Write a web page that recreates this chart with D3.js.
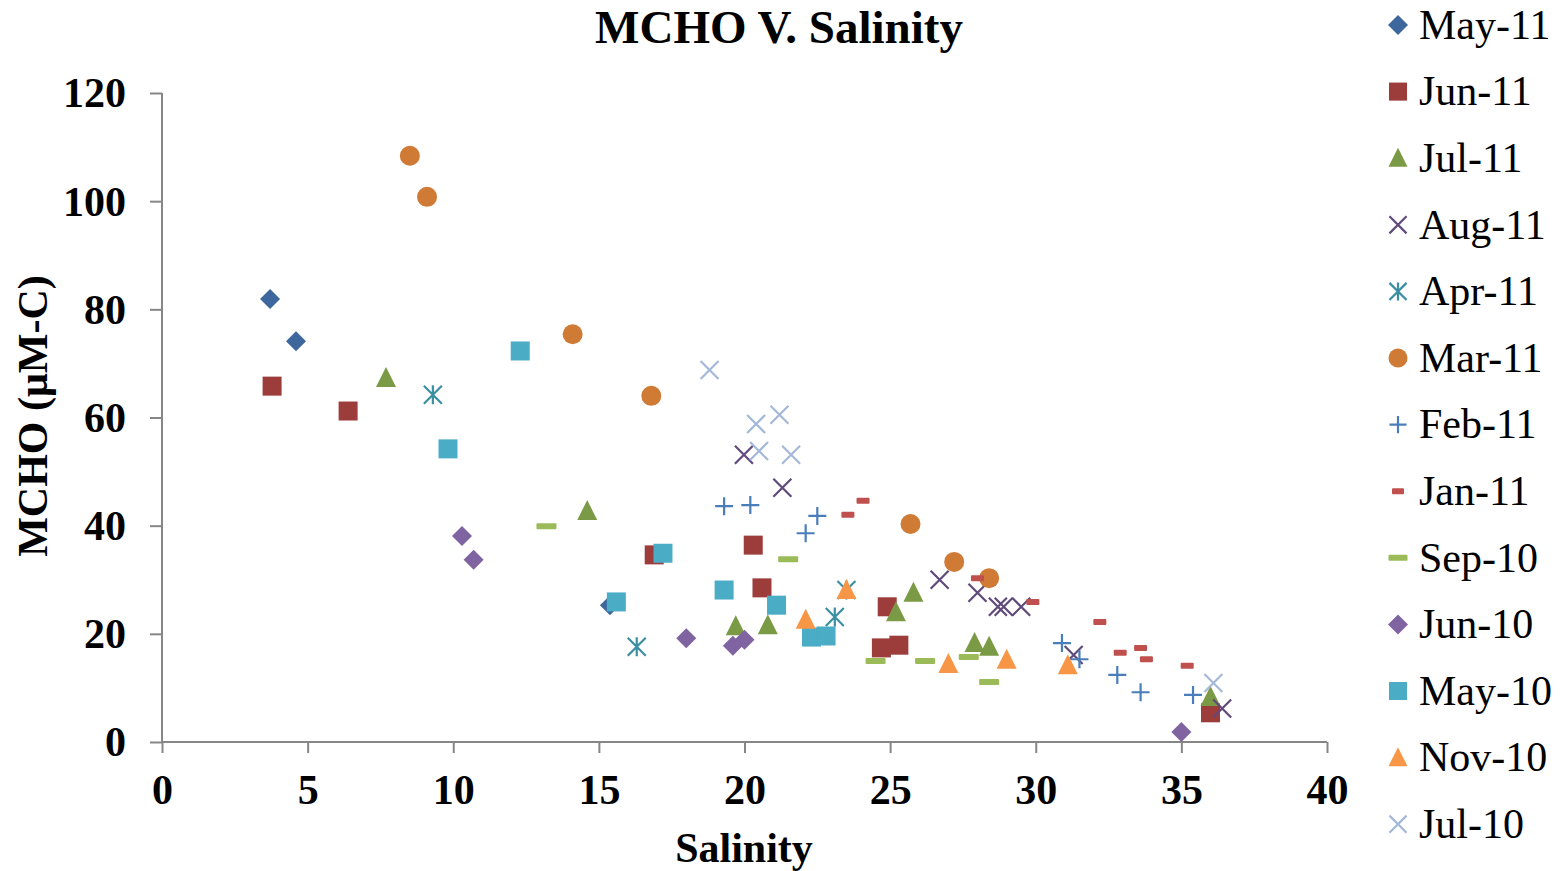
<!DOCTYPE html>
<html><head><meta charset="utf-8">
<script src="https://cdn.jsdelivr.net/npm/d3@7"></script>
<style>body{margin:0;background:#fff}</style></head>
<body><svg id="c" width="1568" height="871"></svg>
<script>
const seriesNames = ["May-11","Jun-11","Jul-11","Aug-11","Apr-11","Mar-11","Feb-11","Jan-11","Sep-10","Jun-10","May-10","Nov-10","Jul-10"];
const seriesColors = ["#3E689D","#9C3D3B","#7A9A45","#604A7B","#3A8FA3","#CF7A35","#4A7EBB","#C0504D","#9BBB59","#8064A2","#4BACC6","#F79646","#A5B8D8"];
const seriesShapes = ["diamond","square","triangle","x","star","circle","plus","dash","dash","diamond","square","triangle","x"];
const may11 = [[3.71,81.9],[4.60,74.1],[15.38,25.3]];
const jun11 = [[3.78,65.8],[6.39,61.2],[16.9,34.6],[20.3,36.4],[20.6,28.5],[24.9,25.0],[24.7,17.4],[25.3,17.9],[36.0,5.4]];
const jul11 = [[7.69,67.3],[14.6,42.7],[19.7,21.4],[20.8,21.6],[25.2,24.0],[25.8,27.6],[27.9,18.3],[28.4,17.6],[36.0,8.3]];
const aug11 = [[19.98,53.1],[21.3,47.0],[26.7,30.0],[28.0,27.6],[28.7,25.0],[28.9,25.0],[29.5,25.0],[31.3,16.1],[36.4,6.2]];
const apr11 = [[9.30,64.2],[16.3,17.6],[23.1,23.1],[23.5,28.1]];
const mar11 = [[8.51,108.4],[9.10,100.8],[14.1,75.4],[16.8,64.0],[25.7,40.3],[27.2,33.3],[28.4,30.3]];
const feb11 = [[19.3,43.6],[20.2,43.8],[22.1,38.6],[22.5,41.8],[30.9,18.3],[31.5,15.3],[32.8,12.4],[33.6,9.2],[35.4,8.7]];
const jan11 = [[23.55,42.0],[24.07,44.6],[28.0,30.3],[29.9,25.9],[32.2,22.2],[32.9,16.5],[33.6,17.4],[33.8,15.3],[35.2,14.1]];
const sep10 = [[13.2,39.9],[21.5,33.8],[24.5,15.0],[26.2,15.0],[27.7,15.7],[28.4,11.1]];
const jun10 = [[10.3,38.1],[10.7,33.7],[18.0,19.2],[19.6,17.8],[20.0,18.9],[35.0,1.85]];
const may10 = [[12.3,72.3],[9.82,54.2],[17.2,34.9],[15.6,25.9],[19.3,28.1],[21.1,25.3],[22.3,19.4],[22.8,19.6]];
const nov10 = [[22.1,22.6],[23.5,28.1],[27.0,14.4],[29.0,15.2],[31.1,14.2]];
const jul10 = [[18.8,68.8],[20.4,58.8],[21.2,60.5],[20.5,53.8],[21.6,53.1],[36.1,10.9]];
const seriesData = [may11,jun11,jul11,aug11,apr11,mar11,feb11,jan11,sep10,jun10,may10,nov10,jul10];
const xTicks = [0,5,10,15,20,25,30,35,40];
const yTicks = [0,20,40,60,80,100,120];

const svg = d3.select("#c");
const font = "'Liberation Serif','Times New Roman',serif";
const x = d3.scaleLinear().domain([0,40]).range([162,1327]);
const y = d3.scaleLinear().domain([0,120]).range([742,93]);

// axes
const xa = svg.append("g").attr("transform","translate(0,742)").call(d3.axisBottom(x).tickValues(xTicks).tickSize(11));
const ya = svg.append("g").attr("transform","translate(162,0)").call(d3.axisLeft(y).tickValues(yTicks).tickSize(12));
[xa,ya].forEach(a=>{
  a.selectAll("path,line").attr("stroke","#868686").attr("stroke-width",2);
  a.selectAll("text").attr("font-family",font).attr("font-weight","bold").attr("font-size",42).attr("fill","#000");
});
xa.select(".domain").attr("d","M162,0H1327");
ya.select(".domain").attr("d","M0,742V93");
xa.selectAll("text").attr("y",48).attr("dy","0.33em");
ya.selectAll("text").attr("x",-36).attr("dy","0.33em");

function drawMarker(g, shape, color, cx, cy, s){
  const h = s/2;
  if(shape==="diamond") g.append("path").attr("d",`M${cx},${cy-h}L${cx+h},${cy}L${cx},${cy+h}L${cx-h},${cy}Z`).attr("fill",color);
  else if(shape==="square") g.append("rect").attr("x",cx-h*0.95).attr("y",cy-h*0.95).attr("width",s*0.95).attr("height",s*0.95).attr("fill",color);
  else if(shape==="triangle") g.append("path").attr("d",`M${cx},${cy-h*1.1}L${cx+h},${cy+h*0.9}L${cx-h},${cy+h*0.9}Z`).attr("fill",color);
  else if(shape==="circle") g.append("circle").attr("cx",cx).attr("cy",cy).attr("r",h).attr("fill",color);
  else if(shape==="x") g.append("path").attr("d",`M${cx-h*0.9},${cy-h*0.9}L${cx+h*0.9},${cy+h*0.9}M${cx-h*0.9},${cy+h*0.9}L${cx+h*0.9},${cy-h*0.9}`).attr("stroke",color).attr("stroke-width",2.2).attr("fill","none");
  else if(shape==="plus") g.append("path").attr("d",`M${cx-h*0.9},${cy}L${cx+h*0.9},${cy}M${cx},${cy-h*0.9}L${cx},${cy+h*0.9}`).attr("stroke",color).attr("stroke-width",2.2).attr("fill","none");
  else if(shape==="star") g.append("path").attr("d",`M${cx-h*0.9},${cy-h*0.9}L${cx+h*0.9},${cy+h*0.9}M${cx-h*0.9},${cy+h*0.9}L${cx+h*0.9},${cy-h*0.9}M${cx},${cy-h*0.95}L${cx},${cy+h*0.95}`).attr("stroke",color).attr("stroke-width",2.2).attr("fill","none");
  else if(shape==="dash") g.append("rect").attr("x",cx-h).attr("y",cy-3).attr("width",s).attr("height",6).attr("rx",1).attr("fill",color);
}

const plot = svg.append("g");
seriesData.forEach((arr,i)=>{
  const g = plot.append("g");
  arr.forEach(d=>{
    const sz = (seriesNames[i]==="Jan-11") ? 13 : 20;
    drawMarker(g, seriesShapes[i], seriesColors[i], x(d[0]), y(d[1]), sz);
  });
});

// title
svg.append("text").attr("x",779).attr("y",43).attr("text-anchor","middle").attr("font-family",font).attr("font-weight","bold").attr("font-size",47).text("MCHO V. Salinity");
// x label
svg.append("text").attr("x",744).attr("y",862).attr("text-anchor","middle").attr("font-family",font).attr("font-weight","bold").attr("font-size",42).text("Salinity");
// y label
svg.append("text").attr("transform","translate(47,416) rotate(-90)").attr("text-anchor","middle").attr("font-family",font).attr("font-weight","bold").attr("font-size",42).text("MCHO (μM-C)");

// legend
const lg = svg.append("g");
seriesNames.forEach((n,i)=>{
  const cy = 25 + i*66.6;
  const shape = seriesShapes[i];
  const sz = (n==="Jan-11") ? 12 : (shape==="diamond" ? 20 : 19);
  drawMarker(lg, shape, seriesColors[i], 1398, cy, sz);
  lg.append("text").attr("x",1419).attr("y",cy).attr("dy","0.33em").attr("font-family",font).attr("font-size",42).text(n);
});
</script></body></html>
